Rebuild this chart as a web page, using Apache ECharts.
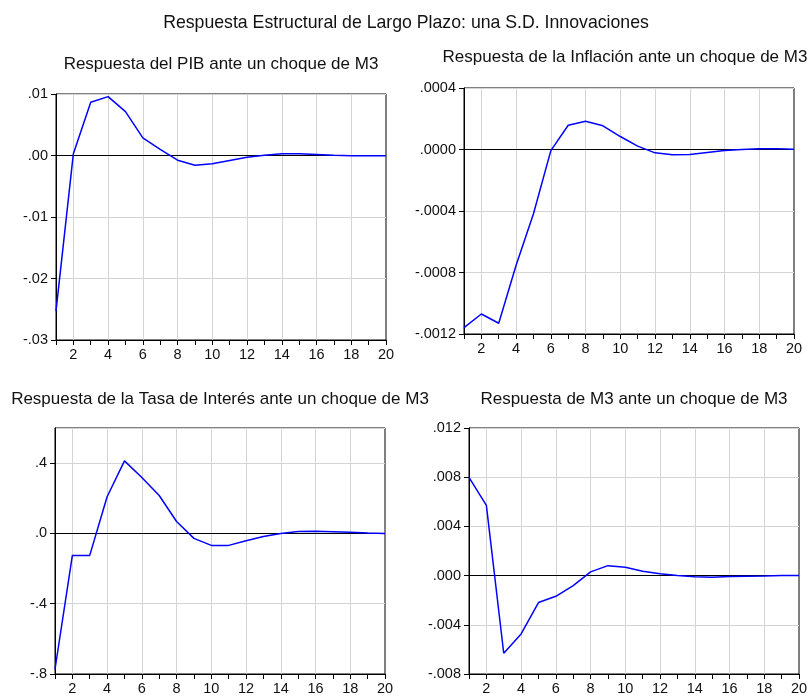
<!DOCTYPE html>
<html>
<head>
<meta charset="utf-8">
<script src="https://cdn.jsdelivr.net/npm/echarts@6/dist/echarts.min.js"></script>
<style>
html,body{margin:0;padding:0;background:#fff;}
#chart{width:812px;height:696px;}
</style>
</head>
<body>
<div id="chart"></div>
<script>
// ---- data ----
var periods = [1,2,3,4,5,6,7,8,9,10,11,12,13,14,15,16,17,18,19,20];

var mainTitle = 'Respuesta Estructural de Largo Plazo: una S.D. Innovaciones';
var panelTitles = [
  'Respuesta del PIB ante un choque de M3',
  'Respuesta de la Inflación ante un choque de M3',
  'Respuesta de la Tasa de Interés ante un choque de M3',
  'Respuesta de M3 ante un choque de M3'
];

var pibResp = [-0.0253, 0.0003, 0.00865, 0.00957, 0.00714, 0.00286, 0.0010, -0.00076, -0.00157, -0.00135,
               -0.0008, -0.0003, 0.00005, 0.00027, 0.00027, 0.00016, 0.00005, -0.00003, -0.00005, -0.00005];

var inflResp = [-0.001158, -0.00107, -0.00113, -0.000753, -0.000418, -0.000007, 0.000158, 0.000184, 0.000154, 0.0000844,
                0.0000217, -0.0000217, -0.0000346, -0.0000325, -0.0000195, -0.0000065, 0.0, 0.0000043, 0.0000043, 0.000002];

var tasaResp = [-0.773, -0.125, -0.125, 0.2085, 0.413, 0.318, 0.216, 0.068, -0.028, -0.068,
                -0.068, -0.042, -0.017, 0.0, 0.011, 0.013, 0.0095, 0.006, 0.002, 0.0];

var m3Resp = [0.00799, 0.00571, -0.00631, -0.00474, -0.00219, -0.00168, -0.00081, 0.0003, 0.00081, 0.00068,
              0.00035, 0.00016, 0.0, -0.0001, -0.00014, -0.00008, -0.00005, -0.00003, 0.0, 0.0];

// y-axis ranges
var yMins = [-0.03, -0.0012, -0.8, -0.008];
var yMaxs = [0.01, 0.0004, 0.6, 0.012];
var yIntervals = [0.01, 0.0004, 0.4, 0.004];
var yDecimals = [2, 4, 1, 3];

// ---- layout ----
var grids = [
  {left: 56, top: 94, width: 330, height: 246},
  {left: 464, top: 88, width: 330, height: 246},
  {left: 55, top: 428, width: 330, height: 247},
  {left: 469, top: 428, width: 330, height: 247}
];
var titlePos = [
  {x: 221, y: 56},
  {x: 625, y: 49},
  {x: 220, y: 391},
  {x: 634, y: 391}
];
var seriesData = [pibResp, inflResp, tasaResp, m3Resp];

var FONT = '"Liberation Sans", Arial, sans-serif';

function fmt(d) {
  return function (v) {
    var s = Number(v).toFixed(d);
    return s.replace(/^(-?)0\./, '$1.');
  };
}

var option = {
  animation: false,
  backgroundColor: '#ffffff',
  textStyle: {fontFamily: FONT},
  title: [{
    text: mainTitle,
    left: 'center',
    top: 9,
    textStyle: {fontFamily: FONT, fontSize: 17.7, fontWeight: 'normal', color: '#111'}
  }],
  grid: [],
  xAxis: [],
  yAxis: [],
  series: []
};

for (var i = 0; i < 4; i++) {
  option.title.push({
    text: panelTitles[i],
    left: titlePos[i].x,
    top: titlePos[i].y,
    textAlign: 'center',
    padding: 0,
    textStyle: {fontFamily: FONT, fontSize: 17, fontWeight: 'normal', color: '#111'}
  });
  option.grid.push({
    left: grids[i].left, top: grids[i].top, width: grids[i].width, height: grids[i].height,
    show: true, borderColor: '#000', borderWidth: 1, backgroundColor: '#fff'
  });
  option.xAxis.push({
    type: 'category',
    gridIndex: i,
    data: periods,
    boundaryGap: false,
    position: 'bottom',
    axisLine: {show: true, onZero: false, lineStyle: {color: '#000', width: 1}},
    axisTick: {show: true, length: 5, interval: 0, lineStyle: {color: '#000'}},
    axisLabel: {
      interval: 0, margin: 7, color: '#111', fontSize: 14.5, fontFamily: FONT,
      formatter: function (v) { return (Number(v) % 2 === 0) ? String(v) : ''; }
    },
    splitLine: {
      show: true,
      interval: function (idx, v) { return Number(v) % 2 === 0 && Number(v) !== 20; },
      lineStyle: {color: '#d4d4d4', width: 1}
    }
  });
  option.yAxis.push({
    type: 'value',
    gridIndex: i,
    min: yMins[i], max: yMaxs[i], interval: yIntervals[i],
    axisLine: {show: true, onZero: false, lineStyle: {color: '#000', width: 1}},
    axisTick: {show: true, length: 5, lineStyle: {color: '#000'}},
    axisLabel: {
      margin: 8, color: '#111', fontSize: 14.5, fontFamily: FONT,
      showMaxLabel: i !== 2,
      formatter: fmt(yDecimals[i])
    },
    splitLine: {show: true, lineStyle: {color: '#d4d4d4', width: 1}}
  });
  option.series.push({
    type: 'line',
    xAxisIndex: i,
    yAxisIndex: i,
    data: seriesData[i],
    symbol: 'none',
    lineStyle: {color: '#0000ff', width: 1.5},
    markLine: {
      silent: true,
      symbol: 'none',
      label: {show: false},
      lineStyle: {color: '#000', width: 1, type: 'solid'},
      data: [{yAxis: 0}],
      z: 1
    },
    z: 3
  });
}

var chart = echarts.init(document.getElementById('chart'), null, {renderer: 'canvas'});
chart.setOption(option);
</script>
</body>
</html>
